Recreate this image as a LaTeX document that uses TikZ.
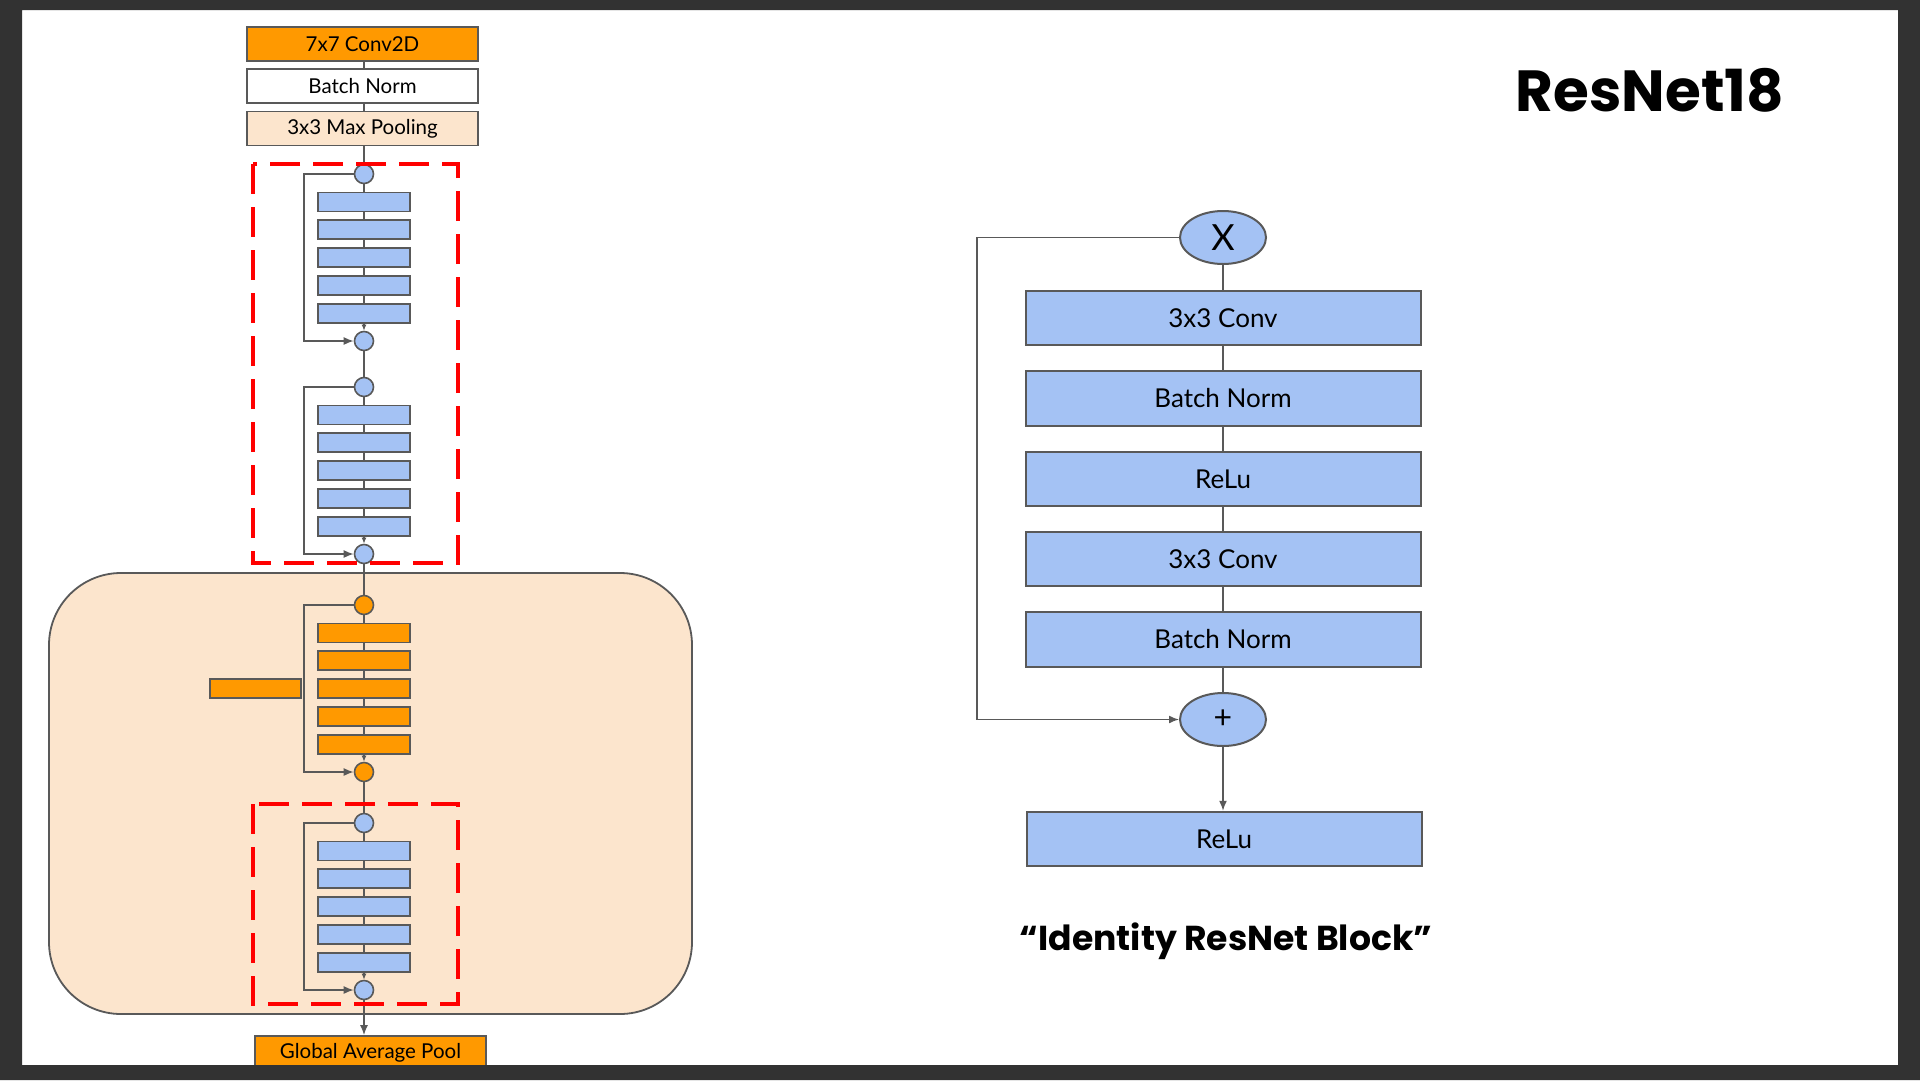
\documentclass[tikz,border=0pt]{standalone}
\usepackage{fontspec}
\setmainfont{Lato}
\newfontfamily\headfont{Poppins}
\usetikzlibrary{arrows.meta,shapes.geometric}

\definecolor{framedark}{HTML}{323232}
\definecolor{linegray}{HTML}{595959}
\definecolor{layerblue}{HTML}{A4C2F4}
\definecolor{layerorange}{HTML}{FF9900}
\definecolor{peach}{HTML}{FCE5CD}
\definecolor{dashred}{HTML}{FF0000}

% one residual block of the left-hand overview: entry dot, five layers, exit dot, skip line
\newcommand{\resblock}[3]{%
  \node[dot,#3] (#1t) at (364,#2) {};
  \foreach \k/\dy in {1/28,2/55.8,3/83.6,4/111.4,5/139.2}{
    \node[layer,#3] (#1r\k) at (364,#2+\dy) {};
  }
  \node[dot,#3] (#1b) at (364,#2+167) {};
  \draw[conn] (#1t) -- (#1r1) -- (#1r2) -- (#1r3) -- (#1r4) -- (#1r5);
  \draw[conn,-{Latex[length=6pt,width=5pt]}] (#1r5) -- (#1b);
  \draw[conn,tip] (#1t.west) -- ++(-49.5,0) |- (#1b.west);
}

\begin{document}
\begin{tikzpicture}[x=1pt,y=-1pt,
  conn/.style={draw=linegray,line width=1.5pt},
  tip/.style={-{Latex[length=10pt,width=8pt]}},
  dot/.style={circle,draw=linegray,line width=1.6pt,minimum size=19pt,inner sep=0pt,fill=layerblue},
  layer/.style={rectangle,draw=linegray,line width=1.8pt,minimum width=92pt,minimum height=19pt,inner sep=0pt,fill=layerblue},
  blueL/.style={fill=layerblue},
  orangeL/.style={fill=layerorange},
  stem/.style={rectangle,draw=linegray,line width=1.8pt,minimum width=231pt,minimum height=34pt,inner sep=0pt,
    font=\fontsize{20.5}{24}\selectfont},
  blk/.style={rectangle,draw=linegray,line width=2pt,minimum width=395pt,minimum height=54.5pt,inner sep=0pt,
    fill=layerblue,font=\fontsize{26}{30}\selectfont},
  op/.style={ellipse,draw=linegray,line width=2pt,minimum width=86pt,minimum height=53pt,inner sep=0pt,
    fill=layerblue},
  reddash/.style={draw=dashred,line width=4pt,dash pattern=on 30pt off 13pt}]

\useasboundingbox (0,0) rectangle (1920,1080);
\fill[white] (0,0) rectangle (1920,1080);

% ---------- ResNet18 overview ----------
\draw[fill=peach,draw=linegray,line width=1.8pt,rounded corners=72pt] (49,573) rectangle (692,1014);

\node[stem,fill=layerorange] (conv7) at (362.5,44) {7x7 Conv2D};
\node[stem,fill=white] (bn0) at (362.5,86) {Batch Norm};
\node[stem,fill=peach] (pool) at (362.5,128.5) {3x3 Max Pooling};

\resblock{ba}{174}{blueL}
\resblock{bb}{387}{blueL}
\resblock{bc}{605}{orangeL}
\resblock{bd}{823}{blueL}

\draw[conn] (bat |- conv7.south) -- (bat |- bn0.north);
\draw[conn] (bat |- bn0.south) -- (bat |- pool.north);
\draw[conn] (bat |- pool.south) -- (bat);
\draw[conn] (bab) -- (bbt);
\draw[conn] (bbb) -- (bct);
\draw[conn] (bcb) -- (bdt);

\node[layer,fill=layerorange,minimum width=91pt] (side) at (255.5,688.5) {};

\node[stem,fill=layerorange] (gap) at (370.5,1053) {Global Average Pool};
\draw[conn,tip] (bdb) -- (bdb |- gap.north);

\draw[reddash] (253,164) rectangle (458,563);
\draw[reddash] (253,804) rectangle (458,1004);

% ---------- identity block ----------
\node[op,font=\fontsize{36}{40}\selectfont] (xin) at (1223,237.5) {X};
\node[blk] (c1) at (1223,318) {3x3 Conv};
\node[blk] (n1) at (1223,398.5) {Batch Norm};
\node[blk] (a1) at (1223,479) {ReLu};
\node[blk] (c2) at (1223,559) {3x3 Conv};
\node[blk] (n2) at (1223,639.5) {Batch Norm};
\node[op,font=\fontsize{32}{36}\selectfont] (plus) at (1223,719.5) {+};
\node[blk] (a2) at (1224,839) {ReLu};

\draw[conn] (xin) -- (c1) -- (n1) -- (a1) -- (c2) -- (n2) -- (plus);
\draw[conn,tip] (plus) -- (plus |- a2.north);
\draw[conn,tip] (xin.west) -- ++(-202,0) |- (plus.west);

\node[anchor=base,font=\headfont\bfseries\fontsize{58}{66}\selectfont] (title) at (1650,111) {ResNet18};
\node[anchor=base,font=\headfont\bfseries\fontsize{34.6}{42}\selectfont] (caption) at (1226,950) {“Identity ResNet Block”};

% ---------- dark surround ----------
\fill[framedark,even odd rule] (0,0) rectangle (1920,1080) (22,10) rectangle (1898,1065);
\end{tikzpicture}
\end{document}
